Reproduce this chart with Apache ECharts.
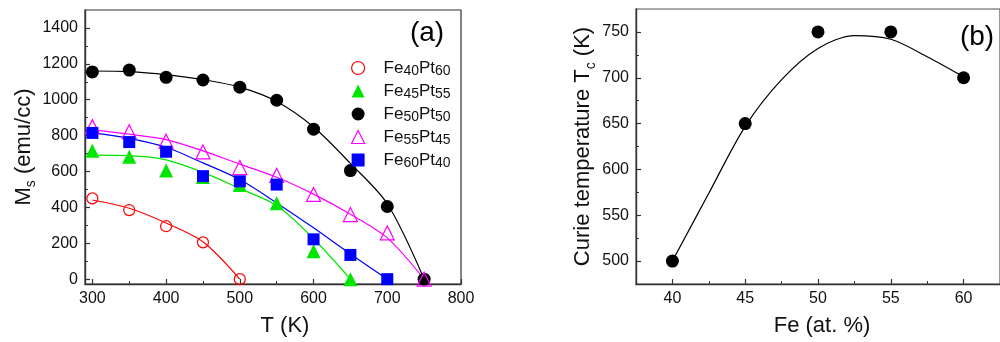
<!DOCTYPE html>
<html>
<head>
<meta charset="utf-8">
<script src="https://cdn.jsdelivr.net/npm/echarts@6/dist/echarts.min.js"></script>
<style>
html,body{margin:0;padding:0;background:#fff;}
#main{width:1000px;height:342px;}
</style>
</head>
<body>
<div id="main"></div>
<script>
// ---------- Data: panel (a) ----------
const tempsK = [300, 350, 400, 450, 500, 550, 600, 650, 700, 750];
const fe40Ms = [450, 385, 295, 205, 0];                               // 300..500
const fe45Ms = [715, 682, 605, 570, 525, 423, 155, 0];                // 300..650
const fe50Ms = [1155, 1165, 1125, 1110, 1070, 997, 836, 605, 405, 0]; // 300..750
const fe55Ms = [850, 822, 769, 709, 622, 578, 472, 360, 258, 0];      // 300..750
const fe60Ms = [815, 764, 710, 574, 545, 527, 222, 135, 0];           // 300..700
// fitted curves
const fit40 = [441, 395, 313, 208, 0];
const fit45 = [691, 688, 665, 595, 505, 410, 225, 0];
const fit50 = [1160, 1157, 1140, 1112, 1070, 990, 848, 645, 420, 0];
const fit55 = [833, 808, 778, 715, 641, 568, 474, 362, 230, 0];
const fit60 = [815, 785, 735, 648, 555, 425, 286, 140, 0];
const seriesNames = ['Fe40Pt60', 'Fe45Pt55', 'Fe50Pt50', 'Fe55Pt45', 'Fe60Pt40'];
const xTicksA = [300, 400, 500, 600, 700, 800];
const xMinorA = [350, 450, 550, 650, 750];
const yTicksA = [0, 200, 400, 600, 800, 1000, 1200, 1400];
const yMinorA = [100, 300, 500, 700, 900, 1100, 1300];

// ---------- Data: panel (b) ----------
const feAt = [40, 45, 50, 55, 60];
const curieK = [500, 650, 750, 750, 700];
const feFit = [40, 42.5, 45, 47.5, 50, 52.5, 55, 57.5, 60];
const curieFit = [500, 574, 647, 698, 732, 746, 742, 723, 701];
const xTicksB = [40, 45, 50, 55, 60];
const xMinorB = [42.5, 47.5, 52.5, 57.5];
const yTicksB = [500, 550, 600, 650, 700, 750];
const yMinorB = [525, 575, 625, 675, 725];

const zip = (xs, ys) => ys.map((y, i) => [xs[i], y]);
const FONT = 'Liberation Sans, Arial, sans-serif';
const AXC = '#333';
const TXT = '#111';
const SMOOTH = 0.3;

function mainAxis(grid, min, max, ticks, extra) {
  return Object.assign({
    type: 'value', gridIndex: grid, min: min, max: max,
    axisLine: {show: true, onZero: false, lineStyle: {color: AXC, width: 1.4}},
    axisTick: {show: true, inside: true, length: 5, customValues: ticks, lineStyle: {color: AXC, width: 1.2}},
    axisLabel: {show: true, customValues: ticks, fontSize: 16, color: TXT, fontFamily: FONT, margin: 7,
      formatter: v => String(v)},
    splitLine: {show: false}
  }, extra);
}
function minorAxis(grid, min, max, ticks, pos) {
  return {
    type: 'value', gridIndex: grid, min: min, max: max, position: pos,
    axisLine: {show: false, onZero: false},
    axisTick: {show: true, inside: true, length: 3, customValues: ticks, lineStyle: {color: AXC, width: 1}},
    axisLabel: {show: false},
    splitLine: {show: false}
  };
}

const colors = {
  red: '#ff0000', green: '#00e600', black: '#000000', magenta: '#ff00ff', blue: '#0000ff'
};
const markerDefs = [
  {name: seriesNames[0], data: zip(tempsK, fe40Ms), symbol: 'circle', size: 11, itemStyle: {color: 'rgba(0,0,0,0)', borderColor: colors.red, borderWidth: 1.2, opacity: 1}, fit: fit40, lc: colors.red},
  {name: seriesNames[1], data: zip(tempsK, fe45Ms), symbol: 'triangle', size: 14, itemStyle: {color: colors.green, opacity: 1}, fit: fit45, lc: colors.green},
  {name: seriesNames[2], data: zip(tempsK, fe50Ms), symbol: 'circle', size: 13, itemStyle: {color: colors.black, opacity: 1}, fit: fit50, lc: colors.black},
  {name: seriesNames[3], data: zip(tempsK, fe55Ms), symbol: 'triangle', size: 14, itemStyle: {color: 'rgba(0,0,0,0)', borderColor: colors.magenta, borderWidth: 1.2, opacity: 1}, fit: fit55, lc: colors.magenta},
  {name: seriesNames[4], data: zip(tempsK, fe60Ms), symbol: 'rect', size: 12, itemStyle: {color: colors.blue, opacity: 1}, fit: fit60, lc: colors.blue}
];

const series = [];
markerDefs.forEach((d, i) => {
  series.push({
    name: 'fit' + i, type: 'line', xAxisIndex: 0, yAxisIndex: 0,
    data: zip(tempsK, d.fit), smooth: SMOOTH, showSymbol: false, symbol: 'none',
    lineStyle: {color: d.lc, width: 1.2}, z: 2, silent: true
  });
});
markerDefs.forEach(d => {
  series.push({
    name: d.name, type: 'scatter', xAxisIndex: 0, yAxisIndex: 0,
    data: d.data, symbol: d.symbol, symbolSize: d.size, itemStyle: d.itemStyle, z: 3
  });
});
series.push({
  name: 'tcfit', type: 'line', xAxisIndex: 2, yAxisIndex: 2,
  data: zip(feFit, curieFit), smooth: SMOOTH, showSymbol: false, symbol: 'none',
  lineStyle: {color: '#000', width: 1.2}, z: 2, silent: true
});
series.push({
  name: 'Tc', type: 'scatter', xAxisIndex: 2, yAxisIndex: 2,
  data: zip(feAt, curieK), symbol: 'circle', symbolSize: 13, itemStyle: {color: '#000', opacity: 1}, z: 3
});

const option = {
  animation: false,
  backgroundColor: '#fff',
  textStyle: {fontFamily: FONT},
  grid: [
    {left: 85, top: 10, width: 376, height: 279, show: true, borderColor: AXC, borderWidth: 1.2, backgroundColor: 'rgba(0,0,0,0)'},
    {left: 636, top: 9, width: 376, height: 280, show: true, borderColor: '#555', borderWidth: 1.2, backgroundColor: 'rgba(0,0,0,0)'}
  ],
  xAxis: [
    mainAxis(0, 290, 800, xTicksA, {position: 'bottom', name: 'T (K)', nameLocation: 'middle', nameGap: 31,
      nameTextStyle: {fontSize: 22, color: TXT, fontFamily: FONT, padding: [0, 0, 0, 24]}}),
    minorAxis(0, 290, 800, xMinorA, 'bottom'),
    mainAxis(1, 37.5, 62.5, xTicksB, {position: 'bottom', name: 'Fe (at. %)', nameLocation: 'middle', nameGap: 31,
      nameTextStyle: {fontSize: 22, color: TXT, fontFamily: FONT, padding: [0, 0, 0, 8]}}),
    minorAxis(1, 37.5, 62.5, xMinorB, 'bottom')
  ],
  yAxis: [
    mainAxis(0, -27, 1500, yTicksA, {position: 'left', name: '{m|M}{s|s}{m| (emu/cc)}', nameLocation: 'middle', nameGap: 42,
      nameTextStyle: {color: TXT, fontFamily: FONT, rich: {
        m: {fontSize: 22, lineHeight: 30, color: TXT, fontFamily: FONT},
        s: {fontSize: 14, lineHeight: 14, verticalAlign: 'bottom', color: TXT, fontFamily: FONT}}}}),
    minorAxis(0, -27, 1500, yMinorA, 'left'),
    mainAxis(1, 475, 775, yTicksB, {position: 'left', name: '{m|Curie temperature T}{s|c}{m| (K)}', nameLocation: 'middle', nameGap: 38,
      nameTextStyle: {color: TXT, fontFamily: FONT, rich: {
        m: {fontSize: 22, lineHeight: 30, color: TXT, fontFamily: FONT},
        s: {fontSize: 14, lineHeight: 14, verticalAlign: 'bottom', color: TXT, fontFamily: FONT}}}}),
    minorAxis(1, 475, 775, yMinorB, 'left')
  ],
  legend: {
    orient: 'vertical', left: 346, top: 53, itemWidth: 13, itemHeight: 13, itemGap: 3,
    data: markerDefs.map(d => ({name: d.name, icon: d.symbol, itemStyle: d.itemStyle})),
    textStyle: {fontSize: 17, lineHeight: 20, color: TXT, fontFamily: FONT, padding: [0, 0, 0, 14],
      rich: {d: {fontSize: 14, lineHeight: 18, verticalAlign: 'bottom', color: TXT, fontFamily: FONT}}},
    formatter: name => name.replace(/(\d+)/g, '{d|$1}'),
    selectedMode: false
  },
  graphic: [
    {type: 'text', x: 427, y: 33, style: {text: '(a)', fontSize: 28, fontFamily: FONT, fill: '#000', align: 'center', verticalAlign: 'middle'}},
    {type: 'text', x: 977, y: 37, style: {text: '(b)', fontSize: 28, fontFamily: FONT, fill: '#000', align: 'center', verticalAlign: 'middle'}}
  ],
  series: series
};

const chart = echarts.init(document.getElementById('main'), null, {renderer: 'canvas'});
chart.setOption(option);
</script>
</body>
</html>
